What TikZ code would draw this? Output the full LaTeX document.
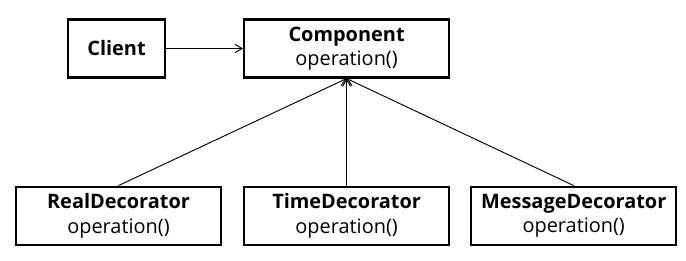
\documentclass[tikz,border=0pt]{standalone}
\usepackage{fontspec}
\setmainfont{Open Sans}
\usepackage{tikz}
\usetikzlibrary{arrows.meta, positioning}

\begin{document}
\begin{tikzpicture}[
  node distance=3.21cm and 2.31cm,
  umlclass/.style={rectangle, draw=black, line width=1.8pt, fill=white,
                minimum width=6.15cm, minimum height=1.74cm, inner sep=0pt,
                align=center, font=\fontsize{17}{21}\selectfont},
  assoc/.style={-{Straight Barb[length=6pt, width=7pt]}, line width=0.8pt},
  inherit/.style={-{Straight Barb[length=6pt, width=7pt]}, line width=0.8pt},
]
  \useasboundingbox (0,0) rectangle (20.58,-7.83);

  % Client uses Component
  \node[umlclass, minimum width=2.91cm] (client) at (3.495,-1.455) {\textbf{Client}};
  \node[umlclass, right=2.31cm of client] (comp) {\textbf{Component}\\operation()};
  \draw[assoc] (client) -- (comp);

  % decorators below Component
  \node[umlclass, below=3.21cm of comp] (time) {\textbf{TimeDecorator}\\operation()};
  \node[umlclass, left=0.63cm of time] (real) {\textbf{RealDecorator}\\operation()};
  \node[umlclass, right=0.6cm of time] (msg) {\textbf{MessageDecorator}\\operation()};

  \draw[inherit] (real.north) -- (comp.south);
  \draw[inherit] (time.north) -- (comp.south);
  \draw[inherit] (msg.north) -- (comp.south);
\end{tikzpicture}
\end{document}
